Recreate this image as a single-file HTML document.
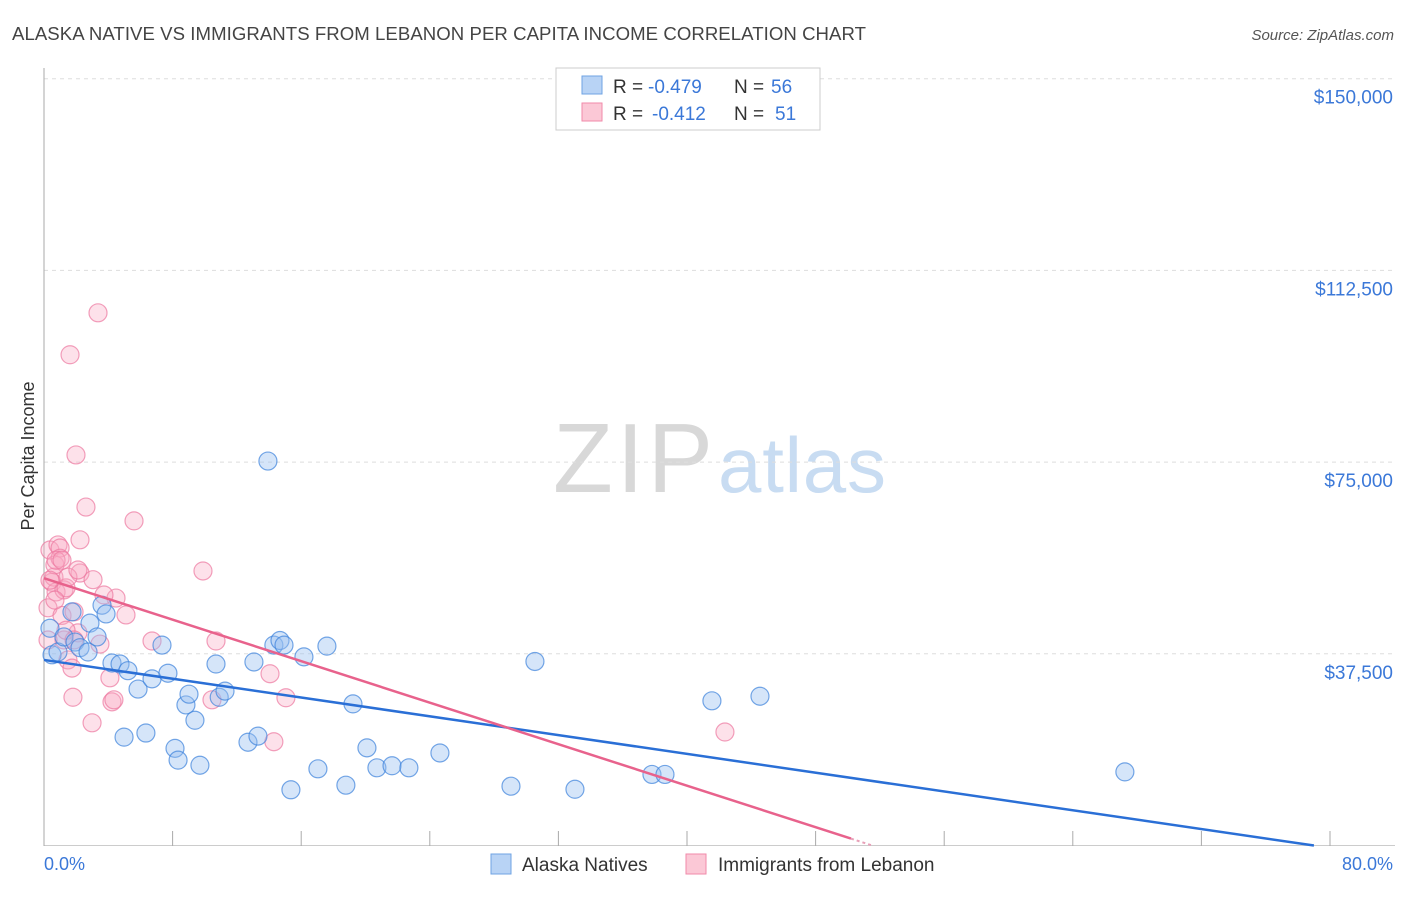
<!DOCTYPE html>
<html><head><meta charset="utf-8"><style>
body{margin:0;background:#fff;font-family:"Liberation Sans",sans-serif;}
svg text{font-family:"Liberation Sans",sans-serif;}
</style></head><body>
<svg id="chart" width="1406" height="892" xmlns="http://www.w3.org/2000/svg">
<text x="12" y="40" font-size="18.6" fill="#444" textLength="854">ALASKA NATIVE VS IMMIGRANTS FROM LEBANON PER CAPITA INCOME CORRELATION CHART</text>
<text x="1394" y="40" font-size="15" fill="#555" text-anchor="end" font-style="italic">Source: ZipAtlas.com</text>
<g>
<text x="553" y="492" font-size="98" fill="#d8d8d8" font-family="Liberation Serif,serif" textLength="160">ZIP</text>
<text x="718" y="492" font-size="78" fill="#c8dcf2" textLength="168">atlas</text>
</g>
<g id="grid"></g>
<g id="axes"></g>
<g id="pts"></g>
<g id="trend"></g>
<text transform="translate(34,456) rotate(-90)" font-size="18" fill="#333" text-anchor="middle">Per Capita Income</text>
<text x="44" y="870" font-size="18" fill="#3b78d8">0.0%</text>
<text x="1393" y="870" font-size="18" fill="#3b78d8" text-anchor="end">80.0%</text>
<g>
<rect x="556" y="68" width="264" height="62" fill="#fff" stroke="#ccc"/>
<rect x="582" y="76" width="20" height="18" fill="#b8d3f5" stroke="#6fa3e3"/>
<rect x="582" y="103" width="20" height="18" fill="#fbc8d6" stroke="#f08aaa"/>
<text x="613" y="93" font-size="19" fill="#333">R =</text>
<text x="648" y="93" font-size="19" fill="#3b78d8">-0.479</text>
<text x="734" y="93" font-size="19" fill="#333">N =</text>
<text x="771" y="93" font-size="19" fill="#3b78d8">56</text>
<text x="613" y="120" font-size="19" fill="#333">R =</text>
<text x="652" y="120" font-size="19" fill="#3b78d8">-0.412</text>
<text x="734" y="120" font-size="19" fill="#333">N =</text>
<text x="775" y="120" font-size="19" fill="#3b78d8">51</text>
</g>
<g>
<rect x="491" y="854" width="20" height="20" fill="#b8d3f5" stroke="#6fa3e3"/>
<text x="522" y="871" font-size="19" fill="#333">Alaska Natives</text>
<rect x="686" y="854" width="20" height="20" fill="#fbc8d6" stroke="#f08aaa"/>
<text x="718" y="871" font-size="19" fill="#333">Immigrants from Lebanon</text>
</g>
</svg>
<script>
const yTicks=[37500,75000,112500,150000];
const yTickLabels=["$37,500","$75,000","$112,500","$150,000"];
const xTicks=[0,8,16,24,32,40,48,56,64,72,80];
const blueX=[0.37,0.5,0.87,1.24,1.74,1.93,2.24,2.74,2.86,3.3,3.61,3.86,4.23,4.73,4.98,5.22,5.85,6.34,6.72,7.34,7.71,8.15,8.34,8.83,9.02,9.39,9.7,10.7,10.9,11.26,12.69,13.06,13.31,13.93,14.3,14.68,14.93,15.36,16.17,17.04,17.6,18.78,19.22,20.09,20.71,21.65,22.7,24.63,29.05,30.54,33.03,37.82,38.63,41.55,44.54,67.24];
const blueY=[42500,37300,37850,40800,45700,39800,38700,37850,43500,40800,47000,45300,35700,35500,21200,34200,30600,22000,32600,39200,33700,19000,16700,27500,29600,24500,15700,35500,29000,30200,20200,35900,21400,75200,39200,40100,39200,10900,36900,15000,39000,11800,27700,19100,15200,15600,15200,18100,11600,36000,11000,13900,13900,28300,29200,14400];
const pinkX=[0.25,0.37,0.5,0.62,0.68,0.75,0.87,1.0,1.12,1.24,1.37,1.49,1.62,1.74,1.8,1.87,1.99,2.11,2.24,2.24,2.61,2.99,3.05,3.36,3.48,4.1,4.23,4.35,4.48,5.1,5.6,6.72,9.89,10.45,10.7,14.06,14.3,15.05,42.36,1.0,1.24,0.25,0.75,1.37,3.73,0.68,1.49,1.87,2.11,1.12,0.37];
const pinkY=[46500,57800,51500,52500,54900,49600,58800,58200,45000,50000,50400,36300,96000,34700,29000,45700,76400,41600,59800,53300,66200,24000,52000,104200,39400,32800,28100,28500,48400,45100,63500,40000,53700,28500,40000,33600,20300,28900,22200,56200,40200,40200,55800,42100,49000,48000,52500,40200,53900,55800,51900];
const blueTrend=[36300,-459.5];
const pinkTrend=[52300,-1015];
const X0=44,XW=1286/80,Y0=845.5,YS=191.7/37500;
const sx=v=>X0+v*XW, sy=v=>Y0-v*YS;
const NS="http://www.w3.org/2000/svg";
function mk(tag,attrs,parent){const e=document.createElementNS(NS,tag);for(const k in attrs)e.setAttribute(k,attrs[k]);parent.appendChild(e);return e;}
const grid=document.getElementById('grid'),axes=document.getElementById('axes'),pts=document.getElementById('pts'),trend=document.getElementById('trend');
yTicks.forEach((t,i)=>{
 const l=mk('line',{x1:44,x2:1395,y1:sy(t),y2:sy(t),stroke:'#ddd','stroke-dasharray':'4,4'},grid);
 
 
 const tx=mk('text',{x:1393,y:sy(t)+25,'font-size':19,fill:'#3b78d8','text-anchor':'end'},axes);
 tx.textContent=yTickLabels[i];
 
 
});
mk('line',{x1:44,x2:44,y1:68,y2:846,stroke:'#aaa'},axes);
mk('line',{x1:44,x2:1395,y1:845.5,y2:845.5,stroke:'#ccc'},axes);
xTicks.forEach(t=>{
 const l=mk('line',{x1:sx(t),x2:sx(t),y1:831,y2:846,stroke:'#aaa'},axes);
 
 
});
function dots(xs,ys,fill,stroke,name){
 xs.forEach((x,i)=>{
  const c=mk('circle',{cx:sx(x),cy:sy(ys[i]),r:9,fill:fill,stroke:stroke,'stroke-width':1.2},pts);
  
  
 });
}
dots(pinkX,pinkY,'rgba(248,170,195,0.35)','rgba(236,120,160,0.7)','pink-point');
dots(blueX,blueY,'rgba(150,190,240,0.4)','rgba(60,130,220,0.7)','blue-point');
const bEnd=-blueTrend[0]/blueTrend[1];
const bl=mk('line',{x1:sx(0),y1:sy(blueTrend[0]),x2:sx(bEnd),y2:sy(0),stroke:'#2a6fd6','stroke-width':2.5},trend);


const pSolid=50.2,pEnd=-pinkTrend[0]/pinkTrend[1];
const pl=mk('line',{x1:sx(0),y1:sy(pinkTrend[0]),x2:sx(pSolid),y2:sy(pinkTrend[0]+pinkTrend[1]*pSolid),stroke:'#e8628c','stroke-width':2.5},trend);


const pd=mk('line',{x1:sx(pSolid),y1:sy(pinkTrend[0]+pinkTrend[1]*pSolid),x2:sx(pEnd),y2:sy(0),stroke:'#e8a0b8','stroke-width':2,'stroke-dasharray':'3,3'},trend);


</script>
</body></html>
